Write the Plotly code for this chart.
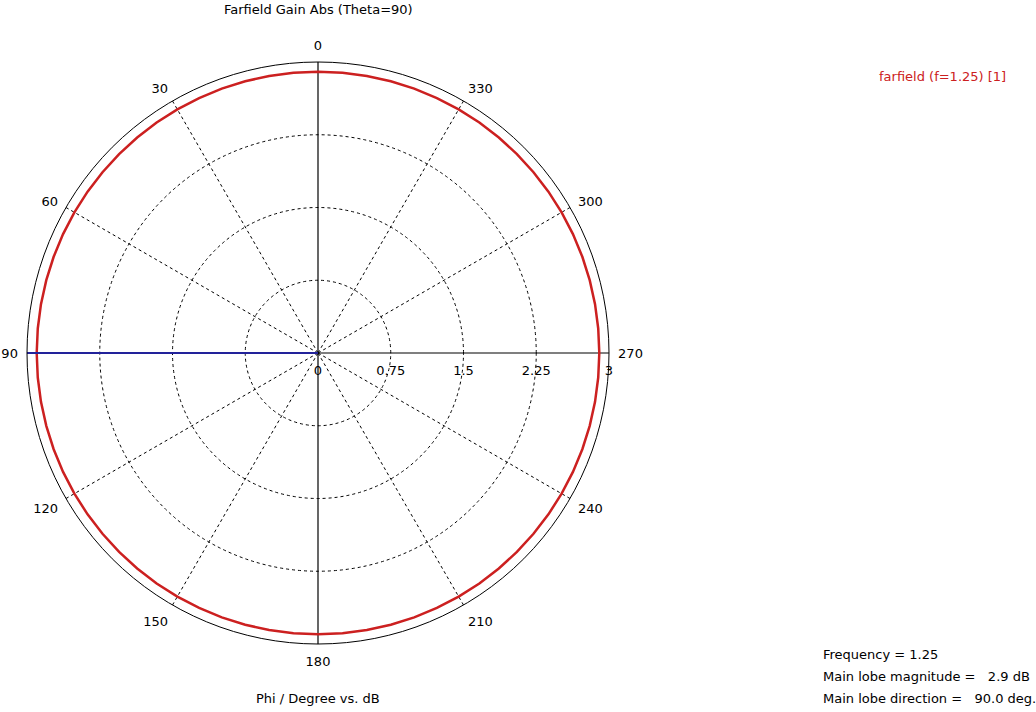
import plotly.graph_objects as go

title_text = "Farfield Gain Abs (Theta=90)"
xlabel_text = "Phi / Degree vs. dB"
legend_text = "farfield (f=1.25) [1]"
info_lines = ["Frequency = 1.25", "Main lobe magnitude =   2.9 dB", "Main lobe direction =   90.0 deg."]

phi_deg = list(range(0, 361, 5))
gain_db = [2.9] * len(phi_deg)
r_ticks = [0, 0.75, 1.5, 2.25, 3]
r_tick_labels = ["0", "0.75", "1.5", "2.25", "3"]
theta_ticks = list(range(0, 360, 30))
theta_tick_labels = [str(t) for t in theta_ticks]
main_axes = [0, 90]
main_lobe_dir = 90.0
r_max = 3

FONT = "DejaVu Sans"
FS = 13
RED = "#cc2020"
BLUE = "#22229a"

fig = go.Figure()
# dashed spokes
for t in theta_ticks:
    if t % 90 == 0:
        continue
    fig.add_trace(go.Scatterpolar(r=[0, r_max], theta=[t, t], mode="lines",
                                  line=dict(color="black", width=1, dash="3px,3px"),
                                  showlegend=False, hoverinfo="skip"))
# solid main axes
for t in main_axes:
    fig.add_trace(go.Scatterpolar(r=[r_max, 0, r_max], theta=[t, t, t + 180], mode="lines",
                                  line=dict(color="black", width=1.2), showlegend=False, hoverinfo="skip"))
# gain curve
fig.add_trace(go.Scatterpolar(r=gain_db, theta=phi_deg, mode="lines",
                              line=dict(color=RED, width=2.5), showlegend=False))
# main lobe direction
fig.add_trace(go.Scatterpolar(r=[0, r_max], theta=[main_lobe_dir, main_lobe_dir], mode="lines",
                              line=dict(color=BLUE, width=2), showlegend=False))

W, H = 1036, 712
cx, cy, R = 318, 353, 291
fig.update_layout(
    width=W, height=H,
    margin=dict(l=0, r=0, t=0, b=0),
    paper_bgcolor="white", plot_bgcolor="white",
    font=dict(family=FONT, size=FS, color="black"),
    showlegend=False,
    polar=dict(
        domain=dict(x=[(cx - R) / W, (cx + R) / W], y=[1 - (cy + R) / H, 1 - (cy - R) / H]),
        bgcolor="white",
        radialaxis=dict(range=[0, r_max], tickvals=r_ticks, ticktext=r_tick_labels,
                        angle=0, side="clockwise", showline=False,
                        ticks="outside", ticklen=6, tickcolor="rgba(0,0,0,0)",
                        gridcolor="black", griddash="3px,3px", gridwidth=1,
                        tickfont=dict(family=FONT, size=FS, color="black")),
        angularaxis=dict(rotation=90, direction="counterclockwise",
                         tickvals=theta_ticks, ticktext=theta_tick_labels,
                         showline=True, linecolor="black", linewidth=1,
                         ticks="outside", ticklen=6, tickcolor="rgba(0,0,0,0)",
                         showgrid=False,
                         tickfont=dict(family=FONT, size=FS, color="black")),
    ),
    annotations=[
        dict(text=title_text, x=cx / W, y=1 - 10 / H, xref="paper", yref="paper",
             showarrow=False, xanchor="center", yanchor="middle"),
        dict(text=xlabel_text, x=cx / W, y=1 - 698 / H, xref="paper", yref="paper",
             showarrow=False, xanchor="center", yanchor="middle"),
        dict(text=legend_text, x=942 / W, y=1 - 77 / H, xref="paper", yref="paper",
             showarrow=False, font=dict(color=RED), xanchor="center", yanchor="middle"),
    ] + [
        dict(text=line, x=821 / W, y=1 - (654 + 22 * i) / H, xref="paper", yref="paper",
             showarrow=False, xanchor="left", yanchor="middle")
        for i, line in enumerate(info_lines)
    ],
)

fig.write_html("out.html", config={"displayModeBar": False},
               post_script="document.body.style.margin='0px';")
